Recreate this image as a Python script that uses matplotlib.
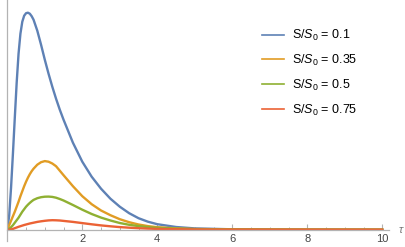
"""
Densidades en funcion de tau para varios S/S0
(valores leidos de la grafica de referencia)
"""

import matplotlib
matplotlib.use("Agg")
import matplotlib.pyplot as plt
from matplotlib.ticker import MultipleLocator

plt.rcParams['font.family'] = ['Liberation Sans', 'DejaVu Sans']
plt.rcParams['mathtext.fontset'] = 'custom'
plt.rcParams['mathtext.rm'] = 'Liberation Sans'
plt.rcParams['mathtext.it'] = 'Liberation Sans:italic'

# tau
tau = [0, 0.05, 0.1, 0.15, 0.2, 0.25, 0.3, 0.35, 0.4, 0.45, 0.5, 0.55,
       0.6, 0.65, 0.7, 0.8, 0.9, 1.0, 1.1, 1.2, 1.3, 1.4, 1.5, 1.75,
       2.0, 2.25, 2.5, 2.75, 3.0, 3.25, 3.5, 3.75, 4.0, 4.5, 5.0, 6.0,
       7.0, 8.0, 10.0]

# curvas (unidades arbitrarias)
s01 = [0, 0.14, 0.42, 0.76, 1.12, 1.47, 1.76, 1.96, 2.08, 2.14, 2.165, 2.17,
       2.16, 2.135, 2.10, 1.99, 1.85, 1.70, 1.56, 1.43, 1.31, 1.20, 1.10, 0.87,
       0.68, 0.53, 0.41, 0.31, 0.23, 0.165, 0.115, 0.08, 0.055, 0.027, 0.013,
       0.004, 0.0015, 0.0006, 0.0001]

s035 = [0, 0.045, 0.09, 0.135, 0.18, 0.23, 0.28, 0.335, 0.385, 0.435, 0.48,
        0.52, 0.555, 0.585, 0.61, 0.65, 0.675, 0.686, 0.68, 0.662, 0.635,
        0.59, 0.545, 0.435, 0.335, 0.255, 0.192, 0.145, 0.105, 0.075, 0.052,
        0.036, 0.025, 0.013, 0.007, 0.003, 0.0015, 0.0008, 0.0002]

s05 = [0, 0.01, 0.025, 0.045, 0.07, 0.095, 0.12, 0.15, 0.18, 0.205, 0.23,
       0.25, 0.268, 0.284, 0.298, 0.315, 0.325, 0.33, 0.331, 0.328, 0.32,
       0.307, 0.292, 0.247, 0.20, 0.157, 0.121, 0.092, 0.067, 0.049, 0.036,
       0.026, 0.019, 0.01, 0.005, 0.002, 0.001, 0.0005, 0.0001]

s075 = [0, 0.0005, 0.003, 0.008, 0.015, 0.022, 0.029, 0.035, 0.041, 0.047,
        0.052, 0.057, 0.062, 0.066, 0.07, 0.078, 0.084, 0.089, 0.093, 0.095,
        0.094, 0.092, 0.088, 0.078, 0.066, 0.054, 0.043, 0.034, 0.026, 0.02,
        0.015, 0.011, 0.008, 0.0045, 0.0025, 0.001, 0.0005, 0.0002, 0]

curves = [(s01, '#5E81B5', r'S/$S_0$ = 0.1'),
          (s035, '#E19C24', r'S/$S_0$ = 0.35'),
          (s05, '#8FB032', r'S/$S_0$ = 0.5'),
          (s075, '#EB6235', r'S/$S_0$ = 0.75')]

fig = plt.figure(figsize=(4.05, 2.47), dpi=100)
ax = fig.add_axes([7.3 / 405, 6 / 247, (389 - 7.3) / 405, 241 / 247])

for y, c, lab in curves:
    ax.plot(tau, y, color=c, lw=1.7, label=lab, solid_joinstyle='round')

ax.set_xlim(0, 10.18)
ax.set_ylim(-0.113, 2.297)

gris = '#b3b3b3'
for s in ['top', 'right']:
    ax.spines[s].set_visible(False)
ax.spines['bottom'].set_position(('data', 0))
ax.spines['bottom'].set_color(gris)
ax.spines['left'].set_color(gris)
ax.spines['bottom'].set_linewidth(0.9)
ax.spines['left'].set_linewidth(0.9)

ax.xaxis.set_minor_locator(MultipleLocator(0.5))
ax.set_xticks([2, 4, 6, 8, 10])
ax.tick_params(axis='x', which='major', direction='in', length=4, width=0.8,
               color=gris, labelsize=8, labelcolor='#444444', pad=3)
ax.tick_params(axis='x', which='minor', direction='in', length=2.5,
               width=0.7, color=gris)
ax.set_yticks([])

fig.text(401 / 405, 1 - 230 / 247, r'$\tau$', color='#777777', fontsize=8,
         ha='center', va='center', family='DejaVu Serif')

ax.legend(loc='upper left', bbox_to_anchor=(262 / 405, 1 - 28 / 247),
          bbox_transform=fig.transFigure, frameon=False, fontsize=9,
          handlelength=1.75, handletextpad=0.65, labelspacing=0.78,
          borderpad=0, borderaxespad=0)
for h in ax.get_legend().get_lines():
    h.set_linewidth(1.2)

fig.savefig('out.png', dpi=100)
